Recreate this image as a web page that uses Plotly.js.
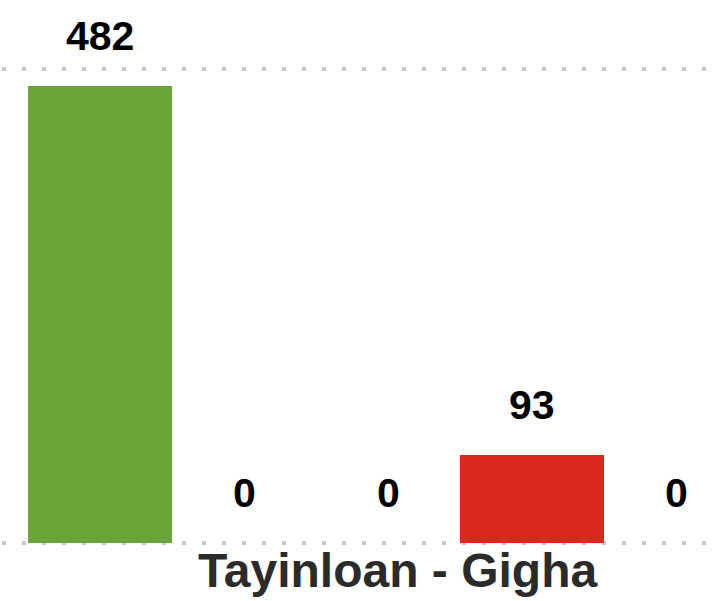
<!DOCTYPE html>
<html>
<head>
<meta charset="utf-8">
<script src="https://cdn.plot.ly/plotly-3.0.1.min.js"></script>
<style>html,body{margin:0;padding:0;background:#fff;}#chart{width:718px;height:601px;}</style>
</head>
<body>
<div id="chart"></div>
<script>
const categories = ["A", "B", "C", "D", "E"];
const values = [482, 0, 0, 93, 0];
const barColors = ["#6ca43a", "#6ca43a", "#6ca43a", "#d9291c", "#6ca43a"];
const labels = ["482", "0", "0", "93", "0"];
const yTicks = [0, 500];
const axisTitle = "Tayinloan - Gigha";

const trace = {
  type: "bar",
  x: categories.map((c, i) => i),
  y: values,
  marker: { color: barColors },
  hoverinfo: "skip"
};

const annotations = values.map((v, i) => ({
  x: i, y: v, xref: "x", yref: "y",
  text: "<b>" + labels[i] + "</b>",
  showarrow: false, yanchor: "middle", xanchor: "center", yshift: 50,
  font: { family: "Liberation Sans, Arial, sans-serif", size: 41, color: "#000" }
}));
annotations.push({
  xref: "paper", yref: "paper", x: (397.5 - 2) / 716, y: 0, yanchor: "top", yshift: 19,
  xanchor: "center", showarrow: false,
  text: "<b>" + axisTitle + "</b>",
  font: { family: "Liberation Sans, Arial, sans-serif", size: 48, color: "#2b2b2b" }
});

const layout = {
  width: 718, height: 601,
  margin: { l: 2, r: 0, t: 0, b: 40, pad: 0 },
  paper_bgcolor: "#fff", plot_bgcolor: "#fff",
  showlegend: false,
  bargap: 0,
  xaxis: {
    range: [(2 - 100) / 144, (718 - 100) / 144],
    showgrid: false, zeroline: false, showticklabels: false, ticks: "", showline: false
  },
  yaxis: {
    range: [-18 / 0.948, 543 / 0.948],
    tickvals: yTicks, showticklabels: false, ticks: "",
    showgrid: true, gridcolor: "#c8c8c8", gridwidth: 4, griddash: "4px,16px",
    zeroline: false, showline: false
  },
  annotations: annotations
};

Plotly.newPlot("chart", [trace], layout, { staticPlot: true, displayModeBar: false });
</script>
</body>
</html>
